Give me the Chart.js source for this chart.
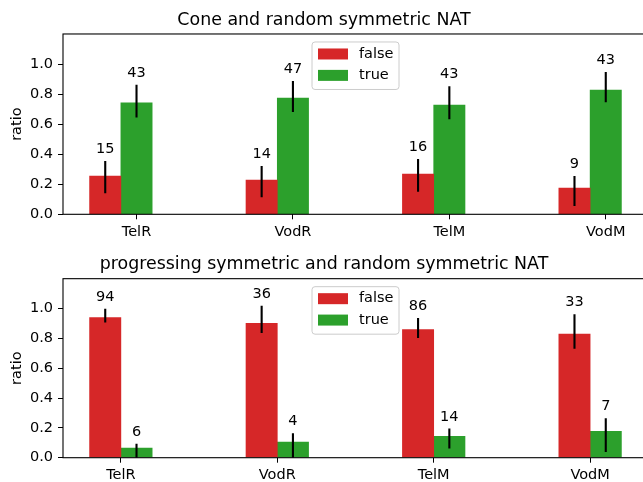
<!DOCTYPE html>
<html>
<head>
<meta charset="utf-8">
<script src="https://cdn.jsdelivr.net/npm/chart.js@4.4.0/dist/chart.umd.min.js"></script>
<style>
  html, body { margin: 0; padding: 0; background: #fff; overflow: hidden; }
  #wrap { position: relative; width: 648px; height: 482px; }
  canvas { position: absolute; left: 0; }
</style>
</head>
<body>
<div id="wrap">
  <canvas id="cone" width="648" height="240" style="top:0"></canvas>
  <canvas id="prog" width="648" height="242" style="top:240px"></canvas>
</div>
<script>
const categories = ['TelR', 'VodR', 'TelM', 'VodM'];
const seriesNames = ['false', 'true'];
const seriesColors = ['#d62728', '#2ca02c'];

// Cone and random symmetric NAT
const coneFalse   = [0.255, 0.228, 0.268, 0.175];
const coneFalseLo = [0.140, 0.113, 0.150, 0.055];
const coneFalseHi = [0.355, 0.321, 0.368, 0.255];
const coneFalseN  = [15, 14, 16, 9];
const coneTrue    = [0.741, 0.774, 0.727, 0.827];
const coneTrueLo  = [0.645, 0.681, 0.632, 0.745];
const coneTrueHi  = [0.862, 0.887, 0.852, 0.947];
const coneTrueN   = [43, 47, 43, 43];

// progressing symmetric and random symmetric NAT
const progFalse   = [0.940, 0.900, 0.859, 0.828];
const progFalseLo = [0.907, 0.836, 0.803, 0.730];
const progFalseHi = [0.998, 1.018, 0.936, 0.962];
const progFalseN  = [94, 36, 86, 33];
const progTrue    = [0.064, 0.104, 0.144, 0.177];
const progTrueLo  = [0.000, 0.000, 0.062, 0.038];
const progTrueHi  = [0.093, 0.164, 0.195, 0.265];
const progTrueN   = [6, 4, 14, 7];

const yTicks = [0, 0.2, 0.4, 0.6, 0.8, 1.0];
const halfBar = 0.1;
const FONT = '"DejaVu Sans", sans-serif';
const TXT = 14.5;

// error bars + count labels on top of each bar
const errorBars = {
    id: 'errorBars',
    afterDatasetsDraw(chart) {
        const { ctx, chartArea, scales: { y } } = chart;
        ctx.save();
        chart.data.datasets.forEach((ds, di) => {
            const meta = chart.getDatasetMeta(di);
            meta.data.forEach((bar, i) => {
                const hi = y.getPixelForValue(ds.errHi[i]);
                const lo = y.getPixelForValue(ds.errLo[i]);
                ctx.save();
                ctx.beginPath();
                ctx.rect(chartArea.left, chartArea.top, chartArea.right - chartArea.left, chartArea.bottom - chartArea.top);
                ctx.clip();
                ctx.strokeStyle = '#000';
                ctx.lineWidth = 2.1;
                ctx.beginPath();
                ctx.moveTo(bar.x, hi);
                ctx.lineTo(bar.x, lo);
                ctx.stroke();
                ctx.restore();
                ctx.fillStyle = '#000';
                ctx.font = TXT + 'px ' + FONT;
                ctx.textAlign = 'center';
                ctx.textBaseline = 'alphabetic';
                ctx.fillText(String(ds.counts[i]), bar.x, hi - 8);
            });
        });
        ctx.restore();
    }
};

// axes frame and matplotlib style legend
const frameLegend = {
    id: 'frameLegend',
    afterDraw(chart) {
        const { ctx, chartArea: a } = chart;
        ctx.save();
        ctx.strokeStyle = '#000';
        ctx.lineWidth = 1.1;
        ctx.strokeRect(a.left, a.top, a.right - a.left, a.bottom - a.top);

        const w = 87, h = 47.5;
        const bx = (a.left + a.right) / 2 - w / 2;
        const by = a.top + 8;
        ctx.fillStyle = 'rgba(255,255,255,0.8)';
        ctx.strokeStyle = '#cccccc';
        ctx.lineWidth = 1;
        ctx.beginPath();
        ctx.roundRect(bx, by, w, h, 3);
        ctx.fill();
        ctx.stroke();
        chart.data.datasets.forEach((ds, i) => {
            const rowY = by + 12 + i * 21.4;
            ctx.fillStyle = ds.backgroundColor;
            ctx.fillRect(bx + 6, rowY - 5.5, 30, 11);
            ctx.fillStyle = '#000';
            ctx.font = TXT + 'px ' + FONT;
            ctx.textAlign = 'left';
            ctx.textBaseline = 'middle';
            ctx.fillText(ds.label, bx + 47, rowY);
        });
        ctx.restore();
    }
};

function makeChart(id, title, titlePad, values, lows, highs, counts, tickShift, xHeight) {
    const datasets = values.map((vals, s) => ({
        label: seriesNames[s],
        backgroundColor: seriesColors[s],
        data: vals.map((v, i) => ({ x: i + (s === 0 ? -halfBar : halfBar), y: v })),
        errLo: lows[s],
        errHi: highs[s],
        counts: counts[s],
        grouped: false,
        categoryPercentage: 1,
        barPercentage: 1
    }));
    return new Chart(document.getElementById(id), {
        type: 'bar',
        data: { datasets },
        options: {
            responsive: false,
            animation: false,
            layout: { padding: 0 },
            plugins: {
                legend: { display: false },
                tooltip: { enabled: false },
                title: {
                    display: true,
                    text: title,
                    color: '#000',
                    font: { family: FONT, size: 17.4, weight: 'normal', lineHeight: 1.2 },
                    padding: titlePad
                }
            },
            scales: {
                x: {
                    type: 'linear',
                    min: -0.37,
                    max: 3.37,
                    offset: false,
                    border: { display: false },
                    grid: { display: true, offset: false, drawOnChartArea: false, drawTicks: true, tickLength: 5, color: '#000' },
                    afterBuildTicks(scale) {
                        scale.ticks = categories.map((c, i) => ({ value: i + tickShift }));
                    },
                    ticks: {
                        color: '#000',
                        padding: 4,
                        maxRotation: 0,
                        autoSkip: false,
                        font: { family: FONT, size: TXT },
                        callback: (v, i) => categories[i]
                    },
                    afterFit(scale) { scale.height = xHeight; }
                },
                y: {
                    min: 0,
                    max: 1.2,
                    border: { display: false },
                    grid: { display: true, drawOnChartArea: false, drawTicks: true, tickLength: 5, color: '#000' },
                    afterBuildTicks(scale) {
                        scale.ticks = yTicks.map(v => ({ value: v }));
                    },
                    ticks: {
                        color: '#000',
                        padding: 5,
                        font: { family: FONT, size: TXT },
                        callback: v => v.toFixed(1)
                    },
                    title: {
                        display: true,
                        text: 'ratio',
                        color: '#000',
                        font: { family: FONT, size: TXT },
                        padding: { top: 9, bottom: 0 }
                    },
                    afterFit(scale) { scale.width = 63; }
                }
            }
        },
        plugins: [errorBars, frameLegend]
    });
}

makeChart('cone', 'Cone and random symmetric NAT', { top: 10.3, bottom: 2.8 },
    [coneFalse, coneTrue], [coneFalseLo, coneTrueLo], [coneFalseHi, coneTrueHi],
    [coneFalseN, coneTrueN], halfBar, 25.7);

makeChart('prog', 'progressing symmetric and random symmetric NAT', { top: 13.6, bottom: 4.2 },
    [progFalse, progTrue], [progFalseLo, progTrueLo], [progFalseHi, progTrueHi],
    [progFalseN, progTrueN], 0, 24.3);
</script>
</body>
</html>
